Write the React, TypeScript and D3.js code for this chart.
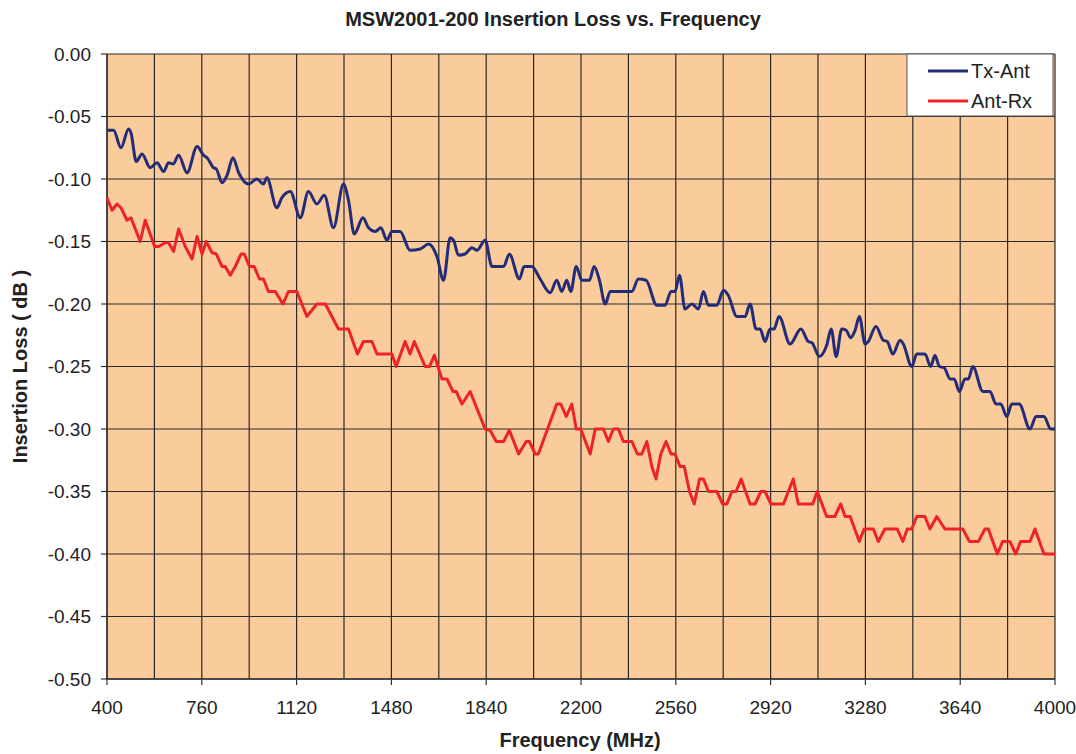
import React from 'react';
import * as d3 from 'd3';

// [frequency MHz, insertion loss dB]
const txAnt: [number, number][] = [
  [400, -0.061], [425, -0.061], [453, -0.075], [482, -0.06], [491, -0.063], [511, -0.086],
  [533, -0.08], [564, -0.091], [590, -0.087], [615, -0.094], [634, -0.087], [651, -0.088],
  [672, -0.081], [704, -0.095], [742, -0.074], [767, -0.081], [780, -0.083], [805, -0.091],
  [815, -0.092], [837, -0.103], [856, -0.097], [878, -0.083], [900, -0.095], [938, -0.104],
  [969, -0.1], [994, -0.104], [1007, -0.099], [1045, -0.123], [1064, -0.115], [1096, -0.11],
  [1134, -0.131], [1165, -0.11], [1197, -0.12], [1225, -0.113], [1260, -0.139], [1298, -0.104],
  [1317, -0.117], [1339, -0.144], [1372, -0.131], [1393, -0.139], [1419, -0.142], [1440, -0.139],
  [1463, -0.149], [1482, -0.142], [1513, -0.142], [1551, -0.157], [1589, -0.156], [1621, -0.152],
  [1653, -0.162], [1678, -0.181], [1703, -0.147], [1716, -0.149], [1735, -0.161], [1760, -0.16],
  [1786, -0.155], [1805, -0.157], [1836, -0.149], [1862, -0.17], [1906, -0.17], [1928, -0.16],
  [1966, -0.18], [1984, -0.17], [2013, -0.17], [2045, -0.18], [2083, -0.191], [2108, -0.181],
  [2127, -0.19], [2146, -0.181], [2161, -0.19], [2182, -0.17], [2203, -0.181], [2232, -0.181],
  [2250, -0.17], [2270, -0.181], [2292, -0.2], [2311, -0.19], [2393, -0.19], [2418, -0.18],
  [2447, -0.181], [2488, -0.201], [2519, -0.201], [2542, -0.19], [2557, -0.19], [2574, -0.177],
  [2595, -0.204], [2621, -0.2], [2646, -0.204], [2665, -0.19], [2684, -0.201], [2716, -0.201],
  [2741, -0.189], [2759, -0.193], [2792, -0.21], [2823, -0.21], [2842, -0.2], [2865, -0.22],
  [2880, -0.22], [2899, -0.23], [2918, -0.22], [2933, -0.22], [2952, -0.21], [2994, -0.232],
  [3035, -0.22], [3063, -0.23], [3077, -0.231], [3105, -0.242], [3133, -0.233], [3150, -0.22],
  [3169, -0.242], [3190, -0.22], [3207, -0.221], [3224, -0.227], [3241, -0.221], [3257, -0.21],
  [3279, -0.232], [3291, -0.23], [3320, -0.218], [3348, -0.229], [3363, -0.23], [3384, -0.24],
  [3412, -0.229], [3424, -0.232], [3456, -0.25], [3475, -0.24], [3506, -0.24], [3528, -0.25],
  [3544, -0.241], [3561, -0.25], [3579, -0.251], [3602, -0.26], [3617, -0.26], [3637, -0.27],
  [3658, -0.26], [3671, -0.26], [3688, -0.25], [3726, -0.27], [3753, -0.27], [3776, -0.28],
  [3794, -0.28], [3817, -0.29], [3836, -0.28], [3864, -0.28], [3905, -0.3], [3928, -0.29],
  [3958, -0.29], [3984, -0.3], [4000, -0.3],
];

const antRx: [number, number][] = [
  [400, -0.115], [419, -0.125], [438, -0.12], [453, -0.123], [476, -0.133], [491, -0.131],
  [526, -0.15], [545, -0.133], [581, -0.154], [596, -0.154], [621, -0.151], [634, -0.151],
  [653, -0.158], [672, -0.14], [697, -0.154], [723, -0.164], [742, -0.146], [761, -0.16],
  [777, -0.15], [799, -0.159], [815, -0.16], [837, -0.17], [849, -0.17], [868, -0.177],
  [887, -0.17], [909, -0.16], [921, -0.16], [941, -0.17], [959, -0.17], [979, -0.18],
  [994, -0.18], [1013, -0.19], [1039, -0.19], [1068, -0.2], [1089, -0.19], [1121, -0.19],
  [1159, -0.21], [1197, -0.2], [1229, -0.2], [1254, -0.21], [1279, -0.22], [1317, -0.22],
  [1351, -0.24], [1374, -0.23], [1406, -0.23], [1425, -0.24], [1482, -0.24], [1498, -0.25],
  [1532, -0.23], [1551, -0.24], [1567, -0.23], [1608, -0.25], [1625, -0.25], [1643, -0.241],
  [1672, -0.26], [1691, -0.26], [1714, -0.27], [1726, -0.27], [1748, -0.28], [1779, -0.27],
  [1836, -0.3], [1855, -0.301], [1878, -0.31], [1906, -0.31], [1928, -0.301], [1963, -0.32],
  [1992, -0.31], [2004, -0.31], [2026, -0.32], [2038, -0.32], [2108, -0.28], [2123, -0.28],
  [2144, -0.29], [2165, -0.28], [2182, -0.3], [2199, -0.3], [2235, -0.32], [2254, -0.3],
  [2285, -0.3], [2304, -0.31], [2323, -0.3], [2342, -0.3], [2361, -0.31], [2393, -0.31],
  [2414, -0.32], [2431, -0.32], [2450, -0.31], [2469, -0.33], [2485, -0.34], [2503, -0.32],
  [2523, -0.31], [2542, -0.32], [2557, -0.32], [2576, -0.33], [2592, -0.33], [2612, -0.35],
  [2630, -0.36], [2650, -0.34], [2665, -0.34], [2684, -0.35], [2716, -0.35], [2738, -0.36],
  [2754, -0.36], [2773, -0.35], [2789, -0.35], [2808, -0.34], [2842, -0.36], [2861, -0.36],
  [2883, -0.35], [2899, -0.35], [2921, -0.36], [2969, -0.36], [3006, -0.34], [3025, -0.36],
  [3080, -0.36], [3097, -0.35], [3133, -0.37], [3164, -0.37], [3186, -0.36], [3203, -0.37],
  [3222, -0.37], [3257, -0.39], [3275, -0.38], [3310, -0.38], [3329, -0.39], [3354, -0.38],
  [3401, -0.38], [3422, -0.39], [3439, -0.38], [3456, -0.38], [3475, -0.37], [3506, -0.37],
  [3525, -0.38], [3551, -0.37], [3582, -0.38], [3650, -0.38], [3675, -0.39], [3709, -0.39],
  [3734, -0.38], [3747, -0.38], [3781, -0.4], [3801, -0.39], [3829, -0.39], [3851, -0.4],
  [3869, -0.39], [3905, -0.39], [3924, -0.38], [3958, -0.4], [4000, -0.4],
];

const xTicks = d3.range(400, 4001, 360);
const xGrid = d3.range(400, 4001, 180);
const yTicks = d3.range(0, 11).map((i) => -i * 0.05);

const series = [
  { name: 'Tx-Ant', data: txAnt, color: '#232C78', smooth: true },
  { name: 'Ant-Rx', data: antRx, color: '#EE2229', smooth: false },
];

const width = 1076;
const height = 754;
const margin = { top: 54, right: 21, bottom: 75, left: 107 };
const font = 'Liberation Sans, Arial, sans-serif';

const App = () => {
  const x = d3.scaleLinear().domain([400, 4000]).range([margin.left, width - margin.right]);
  const y = d3.scaleLinear().domain([-0.5, 0]).range([height - margin.bottom, margin.top]);

  const makeLine = (smooth: boolean) =>
    d3
      .line<[number, number]>()
      .x((d) => x(d[0]))
      .y((d) => y(d[1]))
      .curve(smooth ? d3.curveMonotoneX : d3.curveLinear);

  const x0 = x(400);
  const x1 = x(4000);
  const y0 = y(0);
  const y1 = y(-0.5);
  const legendX = 907;
  const legendY = y0;

  return (
    <svg
      width={width}
      height={height}
      style={{ position: 'absolute', left: 0, top: 0, fontFamily: font }}
    >
      <rect x={0} y={0} width={width} height={height} fill="#fff" />
      <text x={553} y={19} dy="0.35em" textAnchor="middle" fontSize={20} fontWeight="bold" fill="#222">
        MSW2001-200 Insertion Loss vs. Frequency
      </text>

      <rect x={x0} y={y0} width={x1 - x0} height={y1 - y0} fill="#FBCC9B" />

      {/* grid */}
      {xGrid.map((f) => (
        <line key={'gx' + f} x1={x(f)} x2={x(f)} y1={y0} y2={y1} stroke="#2a2a2a" strokeWidth={1.2} />
      ))}
      {yTicks.map((v) => (
        <line key={'gy' + v} x1={x0} x2={x1} y1={y(v)} y2={y(v)} stroke="#2a2a2a" strokeWidth={1.2} />
      ))}

      {/* axes */}
      <line x1={x0} x2={x0} y1={y0} y2={y1} stroke="#333" strokeWidth={1.5} />
      <line x1={x0} x2={x1} y1={y1} y2={y1} stroke="#333" strokeWidth={1.5} />
      {yTicks.map((v) => (
        <g key={'ty' + v}>
          <line x1={x0 - 6} x2={x0} y1={y(v)} y2={y(v)} stroke="#333" strokeWidth={1.2} />
          <text x={91} y={y(v)} dy="0.35em" textAnchor="end" fontSize={19} fill="#222">
            {v.toFixed(2)}
          </text>
        </g>
      ))}
      {xTicks.map((f) => (
        <g key={'tx' + f}>
          <line x1={x(f)} x2={x(f)} y1={y1} y2={y1 + 6} stroke="#333" strokeWidth={1.2} />
          <text x={x(f)} y={707} dy="0.35em" textAnchor="middle" fontSize={19} fill="#222">
            {f}
          </text>
        </g>
      ))}

      {/* series */}
      {series.map((s) => (
        <path
          key={s.name}
          d={makeLine(s.smooth)(s.data) || ''}
          fill="none"
          stroke={s.color}
          strokeWidth={3}
          strokeLinejoin="round"
        />
      ))}

      {/* legend */}
      <rect x={legendX} y={legendY} width={146} height={62} fill="#fff" stroke="#555" strokeWidth={1} />
      {series.map((s, i) => (
        <g key={'lg' + s.name} transform={`translate(${legendX}, ${legendY + 17 + i * 30})`}>
          <line x1={21} x2={61} y1={0} y2={0} stroke={s.color} strokeWidth={3} />
          <text x={64} y={0} dy="0.35em" fontSize={20} fill="#222">
            {s.name}
          </text>
        </g>
      ))}

      <text x={580} y={740} dy="0.35em" textAnchor="middle" fontSize={20} fontWeight="bold" fill="#222">
        Frequency (MHz)
      </text>
      <text
        transform={`translate(20, ${(y0 + y1) / 2}) rotate(-90)`}
        dy="0.35em"
        textAnchor="middle"
        fontSize={20}
        fontWeight="bold"
        fill="#222"
      >
        Insertion Loss ( dB )
      </text>
    </svg>
  );
};

export default App;
